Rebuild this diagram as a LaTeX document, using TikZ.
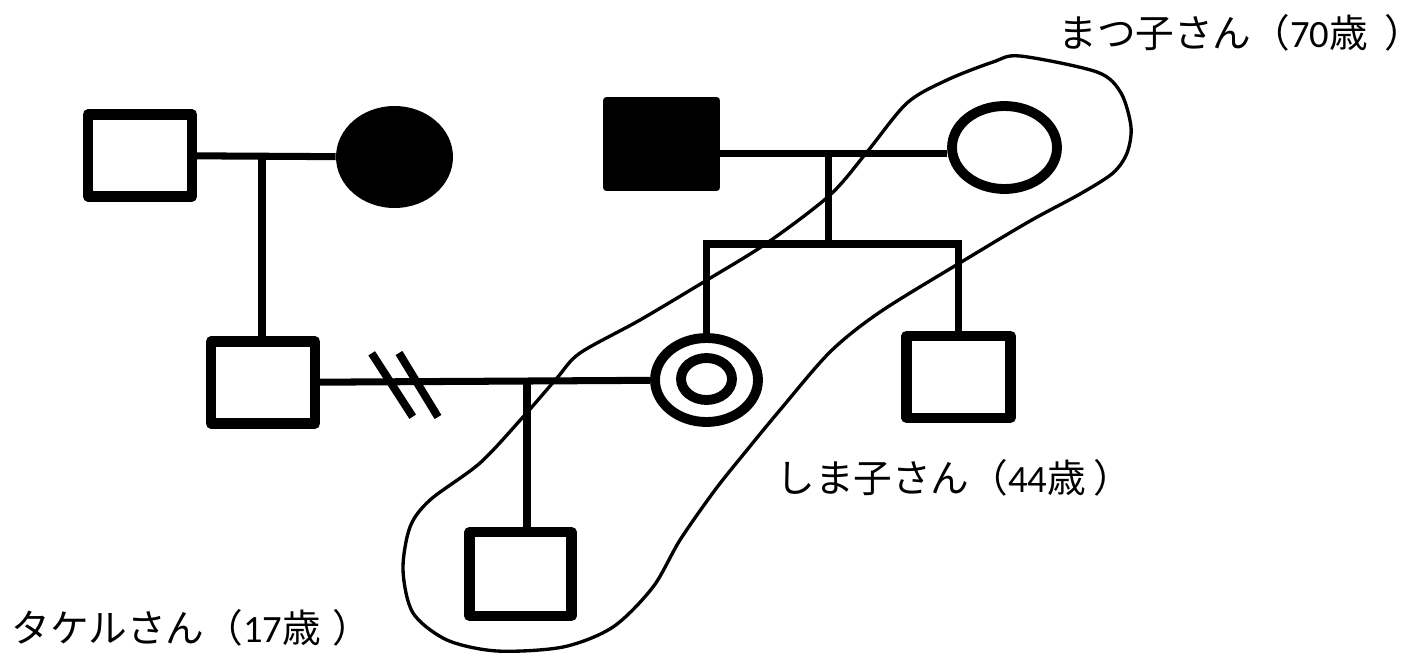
\documentclass[tikz,border=0pt]{standalone}
\usepackage{fontspec}
\setmainfont{Noto Sans CJK JP}
\newfontfamily\digitfont{Carlito}
\newcommand{\agetag}[2][0.3em]{（{\digitfont #2}歳\hspace{#1}\makebox[0.3em][l]{）}}
\usetikzlibrary{shapes.geometric}
\begin{document}
\begin{tikzpicture}[x=0.02cm, y=-0.02cm, font=\fontsize{22pt}{26pt}\selectfont, line join=miter, line cap=butt,
	male/.style={draw, line width=5.8pt, line join=round, inner sep=0pt, minimum width=2.08cm, minimum height=1.64cm},
	female/.style={ellipse, draw, line width=5.6pt, inner sep=0pt, minimum width=2.1cm, minimum height=1.66cm},
	tie/.style={line width=4pt},
	nametag/.style={anchor=west, inner sep=0pt}]
	\useasboundingbox (0,0) rectangle (1423,653);
	\node[male] (grandpa) at (140,155.5) {};
	\node[ellipse, fill, inner sep=0pt, minimum width=2.34cm, minimum height=2.04cm] (grandma) at (394.5,157) {};
	\node[fill, rounded corners=2pt, inner sep=0pt, minimum width=2.34cm, minimum height=1.88cm] (shimaDad) at (661.5,144) {};
	\node[female] (matsuko) at (1004.5,147.5) {};
	\node[male] (father) at (263,382.5) {};
	\node[female, minimum width=2.06cm, minimum height=1.68cm] (shimako) at (706.5,380) {};
	\node[female, minimum width=1.02cm, minimum height=0.84cm] (shimakoIn) at (706.5,379) {};
	\node[male] (uncle) at (958.5,376.7) {};
	\node[male, minimum width=2.04cm, minimum height=1.68cm] (takeru) at (520.5,574) {};
	\coordinate (m1) at (262,156.5);
	\coordinate (m2) at (828.5,153.5);
	\coordinate (sib) at (828.5,244);
	\coordinate (m3) at (527,380.5);
	\draw[tie] (grandpa) -- (grandma);
	\draw[tie] (m1) -- (m1 |- father.north);
	\draw[tie] (shimaDad.east |- m2) -- (matsuko.west |- m2);
	\draw[tie] (m2) -- (sib);
	\draw[tie] (shimako.north) |- (sib) -| (uncle.north);
	\draw[tie] (father) -- (shimako);
	\draw[tie] (m3) -- (m3 |- takeru.north);
	\draw[line width=4.5pt] (371.7,353.3) -- (412.7,416.7) (399,353) -- (438,417);
	\draw[line width=1.9pt] plot[smooth cycle] coordinates {(1020,56) (1097,72) (1121,93) (1131,127) (1127,153) (1113,173) (1080,194) (1030,221) (963,261) (880,312) (830,352) (780,410) (747,450) (715,490) (680,540) (653,587) (613,627) (563,647) (497,651) (447,640) (413,613) (403,570) (410,527) (430,500) (480,463) (523,417) (557,378) (580,353) (640,320) (707,280) (767,243) (830,195) (867,152) (907,103) (947,80) (993,62)};
	\node[nametag] (matsukoText) at (1058,33) {まつ子さん\agetag[0.42em]{70}};
	\node[nametag] (shimakoText) at (776,478) {しま子さん\agetag[0.2em]{44}};
	\node[nametag] (takeruText) at (11,628) {タケルさん\agetag{17}};
\end{tikzpicture}
\end{document}
